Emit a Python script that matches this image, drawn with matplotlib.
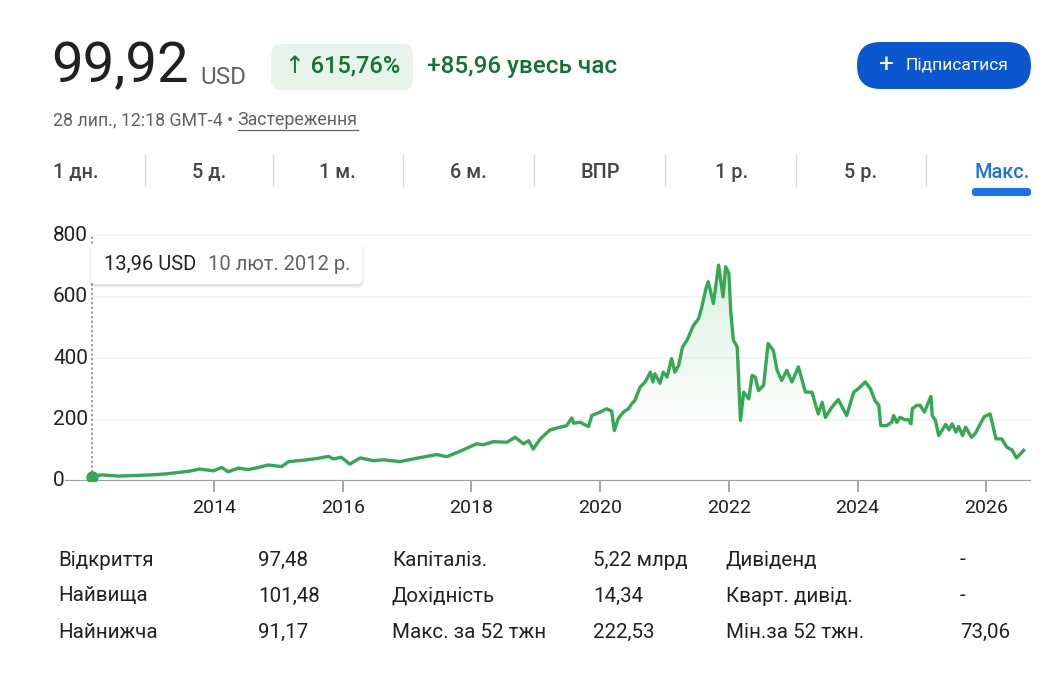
import numpy as np
import matplotlib
matplotlib.use("Agg")
import matplotlib.pyplot as plt
from matplotlib.patches import FancyBboxPatch
from matplotlib.transforms import blended_transform_factory

plt.rcParams['font.family'] = ['Roboto', 'DejaVu Sans']

# price history (decimal year, USD)
dates = [2012.11, 2012.25, 2012.51, 2012.80, 2013.03, 2013.25, 2013.45, 2013.62, 2013.78, 2013.99,
         2014.12, 2014.22, 2014.38, 2014.53, 2014.69, 2014.84, 2015.05, 2015.16, 2015.41, 2015.62,
         2015.78, 2015.85, 2015.98, 2016.11, 2016.27, 2016.48, 2016.63, 2016.89, 2017.15, 2017.46,
         2017.62, 2017.87, 2018.08, 2018.19, 2018.34, 2018.55, 2018.68, 2018.81, 2018.89, 2018.96,
         2019.07, 2019.22, 2019.38, 2019.48, 2019.56, 2019.59, 2019.69, 2019.82, 2019.87, 2020.00,
         2020.10, 2020.18, 2020.22, 2020.28, 2020.36, 2020.44, 2020.49, 2020.54, 2020.62, 2020.70,
         2020.78, 2020.82, 2020.85, 2020.93, 2020.98, 2021.04, 2021.11, 2021.16, 2021.22, 2021.28,
         2021.35, 2021.45, 2021.53, 2021.58, 2021.65, 2021.68, 2021.76, 2021.84, 2021.91, 2021.95,
         2022.00, 2022.03, 2022.07, 2022.13, 2022.18, 2022.23, 2022.31, 2022.36, 2022.41, 2022.46,
         2022.54, 2022.61, 2022.69, 2022.75, 2022.82, 2022.90, 2022.98, 2023.08, 2023.19, 2023.29,
         2023.39, 2023.45, 2023.50, 2023.60, 2023.70, 2023.83, 2023.94, 2024.01, 2024.12, 2024.20,
         2024.27, 2024.33, 2024.36, 2024.45, 2024.53, 2024.56, 2024.61, 2024.66, 2024.74, 2024.79,
         2024.83, 2024.85, 2024.92, 2024.97, 2025.04, 2025.10, 2025.14, 2025.16, 2025.21, 2025.26,
         2025.31, 2025.37, 2025.42, 2025.47, 2025.53, 2025.57, 2025.63, 2025.68, 2025.77, 2025.83,
         2025.91, 2025.97, 2026.06, 2026.15, 2026.24, 2026.32, 2026.40, 2026.47, 2026.52, 2026.58]
prices = [13.96, 20, 16, 18, 20, 23, 28, 32, 39, 33,
          44, 30, 42, 37, 44, 52, 47, 63, 68, 74,
          80, 72, 77, 55, 75, 66, 69, 63, 74, 86,
          79, 101, 121, 118, 128, 126, 142, 121, 131, 104,
          137, 166, 175, 180, 205, 188, 191, 177, 213, 224,
          235, 227, 164, 202, 224, 235, 251, 262, 305, 322,
          354, 322, 349, 318, 354, 338, 398, 354, 376, 436,
          458, 506, 528, 566, 631, 648, 577, 702, 599, 697,
          675, 550, 458, 436, 197, 289, 267, 343, 338, 294,
          311, 447, 425, 360, 327, 360, 322, 371, 289, 289,
          218, 256, 207, 240, 265, 213, 289, 300, 322, 300,
          262, 246, 180, 180, 191, 213, 191, 207, 199, 199,
          186, 235, 246, 246, 224, 256, 275, 213, 197, 148,
          164, 184, 166, 186, 159, 177, 148, 175, 142, 155,
          186, 210, 218, 137, 137, 110, 101, 75, 86, 99.92]

year_ticks = [2014, 2016, 2018, 2020, 2022, 2024, 2026]
price_ticks = [0, 200, 400, 600, 800]

price_now = "99,92"
currency = "USD"
change_pct = "↑ 615,76%"
change_abs = "+85,96 увесь час"
timestamp = "28 лип., 12:18 GMT-4 • "
disclaimer = "Застереження"
follow_btn = "Підписатися"
tooltip_value = "13,96 USD"
tooltip_date = "10 лют. 2012 р."

tabs = ["1 дн.", "5 д.", "1 м.", "6 м.", "ВПР", "1 р.", "5 р.", "Макс."]
stat_labels_1 = ["Відкриття", "Найвища", "Найнижча"]
stat_values_1 = ["97,48", "101,48", "91,17"]
stat_labels_2 = ["Капіталіз.", "Дохідність", "Макс. за 52 тжн"]
stat_values_2 = ["5,22 млрд", "14,34", "222,53"]
stat_labels_3 = ["Дивіденд", "Кварт. дивід.", "Мін.за 52 тжн."]
stat_values_3 = ["-", "-", "73,06"]

GREEN = '#34a853'
DARK_GREEN = '#137333'
INK = '#202124'
GREY = '#5f6368'

W, H = 1050, 688
fig = plt.figure(figsize=(W / 100, H / 100), dpi=100)
fig.patch.set_facecolor('white')
inch = fig.dpi_scale_trans


def P(x, y):
    # pixel position from the top-left corner -> inches
    return x / 100, (H - y) / 100


def txt(x, y, s, **kw):
    kw.setdefault('va', 'center')
    kw.setdefault('color', INK)
    return fig.text(*P(x, y), s, transform=inch, **kw)


def box(x0, y0, x1, y1, r, **kw):
    (a, b), (c, d) = P(x0, y1), P(x1, y0)
    p = FancyBboxPatch((a, b), c - a, d - b, boxstyle=f"round,pad=0,rounding_size={r / 100}",
                       transform=inch, **kw)
    fig.patches.append(p)
    return p


# header
txt(51, 67, price_now, fontsize=40.5, color=INK)
txt(200, 77, currency, fontsize=17.5, color=GREY)
box(271, 44, 413, 90, 10, facecolor='#e6f4ea', edgecolor='none')
txt(343, 67, change_pct, fontsize=17, color=DARK_GREEN, ha='center', fontweight='medium')
txt(427, 67, change_abs, fontsize=17.5, color=DARK_GREEN, fontweight='medium')

box(857, 42, 1031, 89, 23.5, facecolor='#0b57d0', edgecolor='none')
txt(886, 65, "+", fontsize=19, color='white', ha='center')
txt(905, 65, follow_btn, fontsize=12.5, color='white')

t1 = txt(53, 120, timestamp, fontsize=12.8, color=GREY)
fig.canvas.draw()
bb = t1.get_window_extent()
t2 = fig.text(bb.x1 / 100, (H - 120) / 100, disclaimer, transform=inch, va='center',
              fontsize=12.8, color=GREY)
bb2 = t2.get_window_extent()
fig.lines.append(plt.Line2D([bb2.x0, bb2.x1], [H - 130, H - 130], transform=None,
                            color=GREY, lw=0.9))

# range tabs
tab_centers = [75, 209, 337, 468, 600, 732, 861, 1002]
for i, (cx, lab) in enumerate(zip(tab_centers, tabs)):
    last = i == len(tabs) - 1
    ha = 'left' if i == 0 else 'center'
    x = 53 if i == 0 else cx
    txt(x, 172, lab, fontsize=14.3, ha=ha, fontweight='medium',
        color='#1a73e8' if last else '#444746')
for sx in [145, 273, 403, 534, 665, 796, 926]:
    fig.lines.append(plt.Line2D([sx, sx], [H - 155, H - 186], transform=None,
                                color='#dadce0', lw=1))
box(972, 188, 1031, 196, 3, facecolor='#1a73e8', edgecolor='none')

# chart
x_left, x_right = 65, 1031
d0 = 2012.10 - (91.7 - x_left) / 64.35
d1 = 2026.575 + (x_right - 1023.3) / 64.35
ax = fig.add_axes([x_left / W, 1 - 481 / H, (x_right - x_left) / W, (481 - 235) / H])
ax.set_xlim(d0, d1)
ax.set_ylim(0, 800)
ax.patch.set_alpha(0)
for s in ax.spines.values():
    s.set_visible(False)

gx = (93 - x_left) / (x_right - x_left)
for v in price_ticks[1:]:
    ax.axhline(v, xmin=gx, color='#f1f3f4', lw=1.2, zorder=0)
ax.axhline(0, color='#9aa0a6', lw=1.6, zorder=3)

ylab = blended_transform_factory(fig.transFigure, ax.transData)
for v in price_ticks:
    ax.text(53 / W, v, str(v), transform=ylab, ha='left', va='center', fontsize=15, color=INK)

ax.set_yticks([])
ax.set_xticks(year_ticks)
ax.set_xticklabels([str(y) for y in year_ticks])
ax.tick_params(axis='x', length=8, width=1.3, color='#9aa0a6', labelsize=14,
               labelcolor=INK, pad=5)

# gradient fill under the line
fill = ax.fill_between(dates, prices, 0, facecolor='none', edgecolor='none')
yy = np.linspace(0, 800, 400)
alpha = 0.17 * np.clip((yy - 170) / 500, 0, 1)
grad = np.zeros((len(yy), 2, 4))
grad[..., 0], grad[..., 1], grad[..., 2] = 52 / 255, 168 / 255, 83 / 255
grad[..., 3] = alpha[:, None]
im = ax.imshow(grad, extent=[d0, d1, 0, 800], origin='lower', aspect='auto', zorder=1,
               interpolation='bilinear')
im.set_clip_path(fill.get_paths()[0], transform=ax.transData)

ax.plot(dates, prices, color=GREEN, lw=2.4, solid_joinstyle='round', zorder=4)

# hover marker + tooltip
ax.plot([dates[0], dates[0]], [prices[0], 800], color='#9aa0a6', lw=1.4,
        ls=(0, (1.2, 1.2)), zorder=2)
ax.scatter([dates[0]], [prices[0]], s=80, color=GREEN, zorder=5, linewidths=0)

for k, a in enumerate([0.05, 0.04, 0.03]):
    box(91 - k, 244 - k + 2, 362 + k, 284 + k + 2, 4 + k, facecolor='black', alpha=a,
        edgecolor='none')
box(91, 243, 362, 284, 4, facecolor='white', edgecolor='none')
txt(104, 264, tooltip_value, fontsize=14.5, color=INK)
txt(208, 264, tooltip_date, fontsize=14.5, color=GREY)

# key stats
rows_y = [560, 596, 632]
cols = [(58, stat_labels_1), (258, stat_values_1), (392, stat_labels_2),
        (593, stat_values_2), (726, stat_labels_3), (960, stat_values_3)]
for cx, col in cols:
    for ry, s in zip(rows_y, col):
        txt(cx, ry, s, fontsize=14.8, color=INK)

fig.savefig('out.png', dpi=100, facecolor='white')
